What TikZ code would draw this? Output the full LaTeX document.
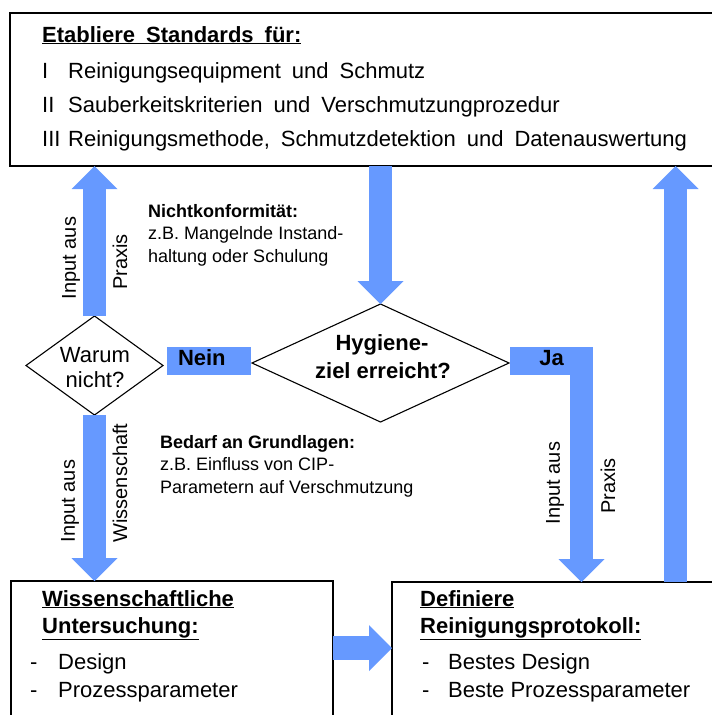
\documentclass[tikz,border=0pt]{standalone}
\usepackage{fontspec}
\setmainfont{Liberation Sans}
\newfontfamily\widefont[WordSpace=1.8]{Liberation Sans}
\usetikzlibrary{arrows.meta,shapes.geometric,calc}
\definecolor{FlowBlue}{HTML}{6699FF}
\tikzset{
    block/.style = {draw, rectangle, line width=1.5pt, anchor=north west,
        inner sep=0pt, outer sep=0pt},
    decision/.style = {draw, diamond, line width=1.1pt, inner sep=0pt, outer sep=0pt},
    bar/.style = {fill=FlowBlue, rectangle, inner sep=0pt, outer sep=0pt,
        minimum height=28pt, text height=18pt, text depth=10pt,
        font=\fontsize{22}{26}\selectfont\bfseries},
    fatarrow/.style = {draw=FlowBlue, line width=23.5pt,
        -{Triangle[width=46pt,length=23pt,line width=0pt]}},
    big/.style = {font=\fontsize{22}{26}\selectfont, inner sep=0pt, anchor=base west},
    bigb/.style = {font=\fontsize{22}{26}\selectfont\bfseries, inner sep=0pt, anchor=base west},
    toptext/.style = {font=\fontsize{22}{26}\selectfont\widefont, inner sep=0pt, anchor=base west},
    note/.style = {font=\fontsize{18}{22}\selectfont, inner sep=0pt, anchor=base west},
    side/.style = {font=\fontsize{20}{24}\selectfont, inner sep=0pt, rotate=90}
}

\begin{document}
\begin{tikzpicture}[x=1pt, y=-1pt]
    \useasboundingbox (0,0) rectangle (712,715);
    \clip (0,0) rectangle (712,715);

    % boxes
    \node [block, minimum width=710pt, minimum height=153pt] (top) at (10,13) {};
    \node [block, minimum width=322pt, minimum height=200pt] (wiss) at (11,581) {};
    \node [block, minimum width=330pt, minimum height=200pt] (def) at (392,582) {};

    % decisions
    \node [decision, minimum width=137pt, minimum height=99pt] (warum) at (94.5,365.5) {};
    \node [decision, minimum width=257pt, minimum height=118pt] (hyg) at (380.5,363) {};
    \node [big, anchor=base] (warum1) at (95,362) {Warum};
    \node [big, anchor=base] (warum2) at (95,387) {nicht?};
    \node [bigb, anchor=base] (hyg1) at (382,350) {Hygiene-};
    \node [bigb, anchor=base] (hyg2) at (383,378) {ziel erreicht?};

    % nein / ja
    \node [bar, minimum width=84pt, text width=62pt, align=left, inner xsep=11pt] (nein) at (209,361) {Nein};
    \node [bar, minimum width=83pt, text width=83pt, align=center] (ja) at (551.5,361) {Ja};
    \coordinate (jaturn) at ($(ja.north east)+(-11.5,0)$);
    \coordinate (rueck) at ($(def.north west)+(283.5,0)$);
    \coordinate (pfeil) at ($(wiss.north east)+(0,67)$);

    % fat arrows
    \draw [fatarrow] (warum.north) -- (warum.north |- top.south);
    \draw [fatarrow] (warum.south) -- (warum.south |- wiss.north);
    \draw [fatarrow] (hyg.north |- top.south) -- (hyg.north);
    \draw [fatarrow] (jaturn) -- (jaturn |- def.north);
    \draw [fatarrow] (rueck) -- (rueck |- top.south);
    \draw [fatarrow] (pfeil) -- (pfeil -| def.west);

    % top box text
    \node [toptext, font=\fontsize{22}{26}\selectfont\widefont\bfseries] (titel) at (42,42) {\underline{Etabliere Standards für:}};
    \foreach \num/\txt/\yy [count=\i] in {I/{Reinigungsequipment und Schmutz}/78,
            II/{Sauberkeitskriterien und Verschmutzungprozedur}/112,
            III/{Reinigungsmethode, Schmutzdetektion und Datenauswertung}/146}{
        \node [toptext] (nr\i) at (42,\yy) {\num};
        \node [toptext] (std\i) at (68,\yy) {\txt};
    }

    % notes
    \node [note, font=\fontsize{18}{22}\selectfont\bfseries] (nk1) at (148,217) {Nichtkonformität:};
    \node [note] (nk2) at (148,239) {z.B. Mangelnde Instand-};
    \node [note] (nk3) at (148,262) {haltung oder Schulung};
    \node [note, font=\fontsize{18}{22}\selectfont\bfseries] (bg1) at (160,448) {Bedarf an Grundlagen:};
    \node [note] (bg2) at (160,470) {z.B. Einfluss von CIP-};
    \node [note] (bg3) at (160,493) {Parametern auf Verschmutzung};

    % arrow labels
    \node [side] (inl1) at (71,258) {Input aus};
    \node [side] (inl2) at (120,262) {Praxis};
    \node [side] (inw1) at (70,501) {Input aus};
    \node [side] (inw2) at (120,483) {Wissenschaft};
    \node [side] (inr1) at (555,483) {Input aus};
    \node [side] (inr2) at (608,486) {Praxis};

    % bottom boxes text
    \node [bigb] (wt1) at (42,606) {\underline{Wissenschaftliche}};
    \node [bigb] (wt2) at (42,633) {\underline{Untersuchung:}};
    \foreach \eintrag/\yy [count=\i] in {Design/669, Prozessparameter/697}{
        \node [big] (wstrich\i) at (30,\yy) {-};
        \node [big] (wpunkt\i) at (58,\yy) {\eintrag};
    }
    \node [bigb] (dt1) at (420,606) {\underline{Definiere}};
    \node [bigb] (dt2) at (420,633) {\underline{Reinigungsprotokoll:}};
    \foreach \eintrag/\yy [count=\i] in {Bestes Design/669, Beste Prozessparameter/697}{
        \node [big] (dstrich\i) at (422,\yy) {-};
        \node [big] (dpunkt\i) at (448,\yy) {\eintrag};
    }
\end{tikzpicture}
\end{document}
